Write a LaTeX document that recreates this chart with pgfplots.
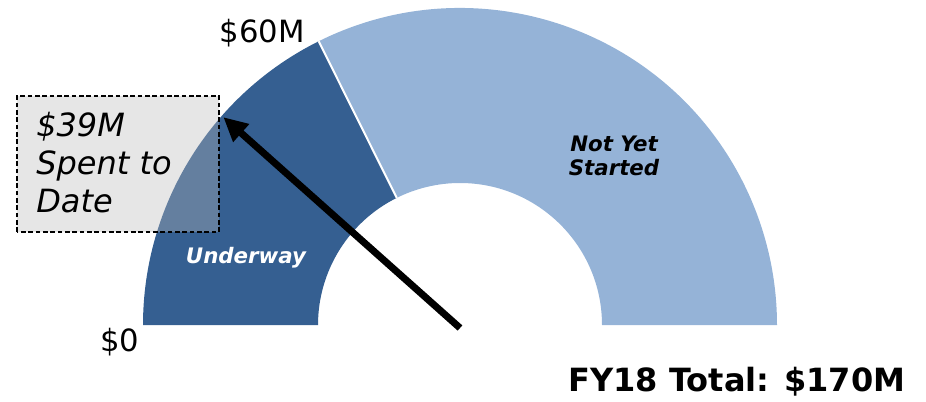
\documentclass[border=0pt]{standalone}
\usepackage{pgfplots}
\pgfplotsset{compat=1.18}
\usepackage{pgfplotstable}
\usepackage{fontspec}
\setmainfont{DejaVu Sans}
\usetikzlibrary{arrows.meta}
\definecolor{darkseg}{HTML}{355F91}
\definecolor{lightseg}{HTML}{95B3D7}
\definecolor{boxgray}{HTML}{BABABA}

\pgfplotstableread{
label start end
Underway 0 60
NotYetStarted 60 170
}\segs
\def\total{170}
\def\spent{39}

\begin{document}
\begin{tikzpicture}
\pgfplotstablegetelem{0}{end}\of\segs \let\vA\pgfplotsretval
\pgfplotstablegetelem{1}{end}\of\segs \let\vB\pgfplotsretval
\pgfmathsetmacro\aA{180-\vA/\total*180}
\pgfmathsetmacro\aB{180-\vB/\total*180}
\pgfmathsetmacro\aS{180-\spent/\total*180}
\begin{axis}[
  x=0.75pt, y=0.75pt,
  xmin=-460, xmax=466, ymin=-76, ymax=325,
  hide axis, clip=false, scale only axis,
]
\coordinate (bbSW) at (axis cs:-460,-76);
\coordinate (bbNE) at (axis cs:466,325);
% Underway segment
\fill[darkseg] (axis cs:-317,0) arc[start angle=180,end angle=\aA,radius=237.75pt]
  -- (axis cs:{142*cos(\aA)},{142*sin(\aA)}) arc[start angle=\aA,end angle=180,radius=106.5pt] -- cycle;
% Not yet started
\fill[lightseg] (axis cs:{317*cos(\aA)},{317*sin(\aA)}) arc[start angle=\aA,end angle=\aB,radius=237.75pt]
  -- (axis cs:{142*cos(\aB)},{142*sin(\aB)}) arc[start angle=\aB,end angle=\aA,radius=106.5pt] -- cycle;
\draw[white, line width=1.5pt] (axis cs:{142*cos(\aA)},{142*sin(\aA)}) -- (axis cs:{317*cos(\aA)},{317*sin(\aA)});
% box
\draw[black, line width=1.1pt, dash pattern=on 3.5pt off 2pt, fill=boxgray, fill opacity=0.36]
  (axis cs:-443,93) rectangle (axis cs:-241,229);
\node[anchor=north west, align=left, font=\fontsize{24}{28.5}\selectfont\itshape, inner sep=0pt]
  at (axis cs:-424,213) {\$39M\\Spent to\\Date};
% arrow
\draw[line width=5.25pt, -{Triangle[length=18pt,width=17pt]}] (axis cs:0,-3) -- (axis cs:{315*cos(\aS)},{315*sin(\aS)});
% labels
\node[font=\fontsize{23}{28}\selectfont] at (axis cs:-198,292) {\$60M};
\node[font=\fontsize{23}{28}\selectfont] at (axis cs:-340,-17) {\$0};
\node[font=\fontsize{24}{28}\selectfont\bfseries] at (axis cs:277,-57) {FY18 Total: \$170M};
\node[font=\fontsize{16}{19}\selectfont\bfseries\itshape, text=white] at (axis cs:-214,67) {Underway};
\node[font=\fontsize{16}{18.5}\selectfont\bfseries\itshape, align=center] at (axis cs:154,169) {Not Yet\\Started};
\end{axis}
\pgfresetboundingbox
\path (bbSW) rectangle (bbNE);
\end{tikzpicture}
\end{document}
